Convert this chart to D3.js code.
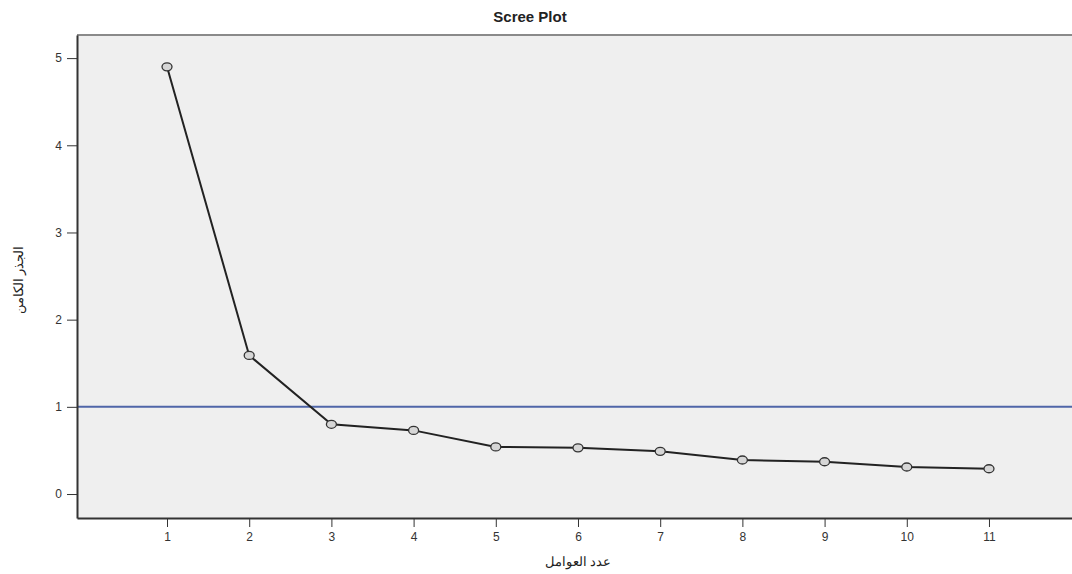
<!DOCTYPE html>
<html>
<head>
<meta charset="utf-8">
<title>Scree Plot</title>
<script src="https://d3js.org/d3.v7.min.js"></script>
<style>
	html, body {margin: 0; background: #fff; overflow: hidden}
	text {font-family: "Liberation Sans", Arial, sans-serif}
	.axis {color: #333}
	.axis text {font-size: 12px; fill: #333}
</style>
</head>
<body>
<script>
	// data
	var components = [1, 2, 3, 4, 5, 6, 7, 8, 9, 10, 11];
	var eigenvalues = [4.90, 1.59, 0.80, 0.73, 0.54, 0.53, 0.49, 0.39, 0.37, 0.31, 0.29];
	var yTicks = [0, 1, 2, 3, 4, 5];
	var refLine = 1;

	var width = 1072, height = 574;
	var margin = {top: 35, right: 0, bottom: 56, left: 77};

	var svg = d3.select("body").append("svg")
		.attr("width", width)
		.attr("height", height);

	var x = d3.scaleLinear()
		.domain([-0.095, 12.01])
		.range([margin.left, width - margin.right]);

	var y = d3.scaleLinear()
		.domain([-0.275, 5.265])
		.range([height - margin.bottom, margin.top]);

	// plot background
	svg.append("rect")
		.attr("x", margin.left)
		.attr("y", margin.top)
		.attr("width", width - margin.left - margin.right)
		.attr("height", height - margin.top - margin.bottom)
		.attr("fill", "#efefef");

	svg.append("line")
		.attr("x1", margin.left).attr("x2", width)
		.attr("y1", margin.top).attr("y2", margin.top)
		.attr("stroke", "#8a8a8a").attr("stroke-width", 2);

	// reference line at eigenvalue 1
	svg.append("line")
		.attr("x1", margin.left).attr("x2", width)
		.attr("y1", y(refLine)).attr("y2", y(refLine))
		.attr("stroke", "#4f66a8").attr("stroke-width", 2);

	var xAxis = d3.axisBottom(x).tickValues(components).tickSize(9).tickPadding(5).tickSizeOuter(0).tickFormat(d3.format("d"));
	var yAxis = d3.axisLeft(y).tickValues(yTicks).tickSize(10).tickPadding(5).tickSizeOuter(0).tickFormat(d3.format("d"));

	var gx = svg.append("g")
		.attr("class", "axis")
		.attr("transform", "translate(0," + (height - margin.bottom) + ")")
		.call(xAxis);
	gx.select(".domain").attr("stroke-width", 2);

	var gy = svg.append("g")
		.attr("class", "axis")
		.attr("transform", "translate(" + margin.left + ",0)")
		.call(yAxis);
	gy.select(".domain").attr("stroke-width", 2);

	// the scree line
	var line = d3.line()
		.x(function(d, i) { return x(components[i]); })
		.y(function(d) { return y(d); });

	svg.append("path")
		.datum(eigenvalues)
		.attr("d", line)
		.attr("fill", "none")
		.attr("stroke", "#222")
		.attr("stroke-width", 2);

	svg.selectAll(".pt")
		.data(eigenvalues)
		.enter().append("ellipse")
		.attr("class", "pt")
		.attr("cx", function(d, i) { return x(components[i]); })
		.attr("cy", function(d) { return y(d); })
		.attr("rx", 5)
		.attr("ry", 4)
		.attr("fill", "#d6d6d6")
		.attr("stroke", "#333")
		.attr("stroke-width", 1.3);

	svg.append("text")
		.attr("x", 530)
		.attr("y", 22)
		.attr("text-anchor", "middle")
		.attr("font-size", "15px")
		.attr("font-weight", "bold")
		.attr("fill", "#222")
		.text("Scree Plot");

	svg.append("text")
		.attr("x", 578)
		.attr("y", 566)
		.attr("text-anchor", "middle")
		.attr("font-size", "13px")
		.attr("font-family", "DejaVu Sans")
		.attr("fill", "#222")
		.text("عدد العوامل");

	svg.append("text")
		.attr("transform", "translate(23," + 280 + ") rotate(-90)")
		.attr("text-anchor", "middle")
		.attr("font-size", "13px")
		.attr("font-family", "DejaVu Sans")
		.attr("fill", "#222")
		.text("الجذر الكامن");
</script>
</body>
</html>
